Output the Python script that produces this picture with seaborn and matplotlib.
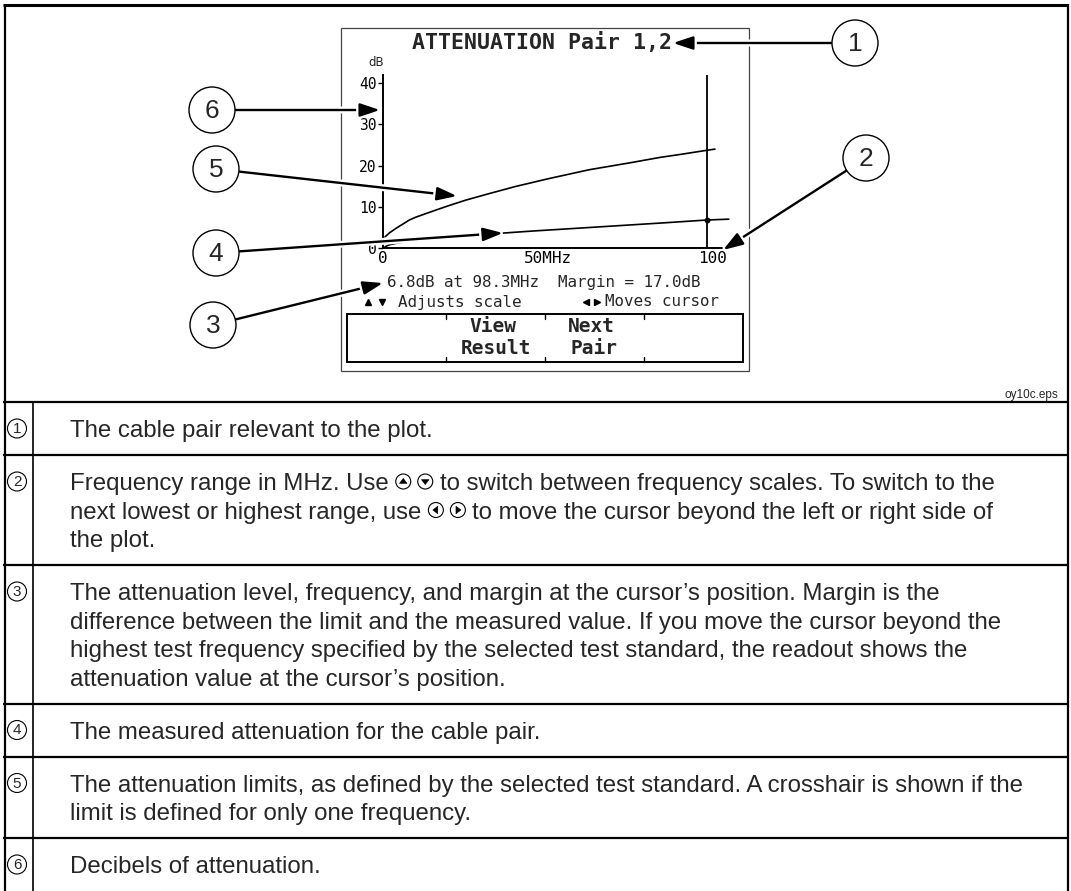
import numpy as np
import pandas as pd
import matplotlib
matplotlib.use('Agg')
import matplotlib.pyplot as plt
import seaborn as sns
from matplotlib.patches import Circle, Rectangle, Polygon
import matplotlib.patheffects as pe

# ---------------- data ----------------
limit_freq = [0.6, 2, 4, 8, 10, 16, 20, 25, 31.25, 40, 50, 62.5, 75, 84, 90, 98, 100.6]
limit_db = [2.7, 3.7, 4.8, 6.8, 7.5, 9.2, 10.3, 11.6, 13.0, 14.9, 16.8, 19.0, 20.7, 22.0, 22.7, 23.7, 24.0]
meas_freq = [0.6, 2, 5, 10, 20, 30, 36, 45, 55, 65, 75, 85, 98.3, 104.8]
meas_db = [0.3, 0.8, 1.3, 1.8, 2.6, 3.2, 3.6, 4.1, 4.6, 5.1, 5.6, 6.1, 6.8, 7.0]
cursor_freq = 98.3
cursor_db = 6.8
margin_db = 17.0
y_ticks = [0, 10, 20, 30, 40]
x_ticks = [0, 50, 100]
x_tick_labels = ['0', '50MHz', '100']
title = 'ATTENUATION Pair 1,2'
y_unit = 'dB'
hint_left = 'Adjusts scale'
hint_right = 'Moves cursor'
buttons = [('View', 'Result'), ('Next', 'Pair')]
callout_numbers = ['1', '2', '3', '4', '5', '6']
fig_name = 'oy10c.eps'
table_rows = [
    [['The cable pair relevant to the plot.']],
    [['Frequency range in MHz. Use', 'UP', 'DOWN', 'to switch between frequency scales. To switch to the'],
     ['next lowest or highest range, use', 'LEFT', 'RIGHT', 'to move the cursor beyond the left or right side of'],
     ['the plot.']],
    [['The attenuation level, frequency, and margin at the cursor\u2019s position. Margin is the'],
     ['difference between the limit and the measured value. If you move the cursor beyond the'],
     ['highest test frequency specified by the selected test standard, the readout shows the'],
     ['attenuation value at the cursor\u2019s position.']],
    [['The measured attenuation for the cable pair.']],
    [['The attenuation limits, as defined by the selected test standard. A crosshair is shown if the'],
     ['limit is defined for only one frequency.']],
    [['Decibels of attenuation.']],
]

sns.set_style('white')
plt.rcParams['font.family'] = ['Liberation Sans', 'DejaVu Sans']
MONO = 'DejaVu Sans Mono'

W, H = 1071, 891
fig = plt.figure(figsize=(W / 100, H / 100), dpi=100)
fig.patch.set_facecolor('white')

# ---------------- LCD chart ----------------
x0_px, x1_px = 383, 723
y0_px, y1_px = 248, 75
px_per_mhz = 3.3
px_per_db = 4.12
ax = fig.add_axes([x0_px / W, 1 - y0_px / H, (x1_px - x0_px) / W, (y0_px - y1_px) / H])
ax.set_facecolor('none')
df_lim = pd.DataFrame({'freq': limit_freq, 'db': limit_db})
df_meas = pd.DataFrame({'freq': meas_freq, 'db': meas_db})
sns.lineplot(data=df_lim, x='freq', y='db', ax=ax, color='k', lw=1.2, clip_on=False)
sns.lineplot(data=df_meas, x='freq', y='db', ax=ax, color='k', lw=1.2, clip_on=False)
ax.axvline(cursor_freq, color='k', lw=1.3)
ax.plot([cursor_freq], [cursor_db], 'o', ms=3.2, color='k', clip_on=False)
ax.set_xlim(0, (x1_px - x0_px) / px_per_mhz)
ax.set_ylim(0, (y0_px - y1_px) / px_per_db)
for s in ['top', 'right']:
    ax.spines[s].set_visible(False)
for s in ['left', 'bottom']:
    ax.spines[s].set_linewidth(1.4)
    ax.spines[s].set_color('k')
ax.set_yticks(y_ticks)
ax.set_yticklabels([str(v) for v in y_ticks], fontfamily=MONO, fontsize=10.5)
ax.set_xticks(x_ticks)
ax.set_xticklabels(x_tick_labels, fontfamily=MONO, fontsize=11.5)
ax.tick_params(axis='y', direction='out', length=3.5, width=1.0, pad=1, colors='k', left=True)
ax.tick_params(axis='x', length=0, pad=2, colors='k')
ax.set_xlabel('')
ax.set_ylabel('')
ax.grid(False)

# ---------------- page overlay ----------------
page = fig.add_axes([0, 0, 1, 1])
page.set_xlim(0, W)
page.set_ylim(H, 0)
page.axis('off')
page.set_facecolor('none')
R = fig.canvas.get_renderer()

# outer border
page.plot([3, 1068], [5, 5], color='k', lw=2.2, solid_capstyle='butt')
page.plot([4.5, 4.5], [4, H], color='k', lw=1.6, solid_capstyle='butt')
page.plot([1067.5, 1067.5], [4, H], color='k', lw=1.6, solid_capstyle='butt')

# screen frame
page.add_patch(Rectangle((341, 28), 408, 343, fill=False, ec='#444444', lw=0.9))
page.text(376, 62, y_unit, ha='center', va='center', fontsize=8.5, family='DejaVu Sans')
page.text(542, 43, title, ha='center', va='center', family=MONO, weight='bold', fontsize=15.5)

# readout and hints
page.text(387, 283, f'{cursor_db}dB at {cursor_freq}MHz  Margin = {margin_db}dB',
          ha='left', va='center', family=MONO, fontsize=11.4)
page.plot([368], [302], marker='^', ms=5, color='k')
page.plot([382], [302], marker='v', ms=5, color='k')
page.text(398, 302, hint_left, ha='left', va='center', family=MONO, fontsize=11.4)
page.plot([586], [302], marker='<', ms=5, color='k')
page.plot([597], [302], marker='>', ms=5, color='k')
page.text(605, 302, hint_right, ha='left', va='center', family=MONO, fontsize=11.4)

# soft-key box
bx0, by0, bw, bh = 347, 314, 396, 48
page.add_patch(Rectangle((bx0, by0), bw, bh, fill=False, ec='k', lw=1.4))
for i in range(1, 4):
    xd = bx0 + bw * i / 4
    page.plot([xd, xd], [by0, by0 + 5], color='k', lw=1.0)
    page.plot([xd, xd], [by0 + bh - 5, by0 + bh], color='k', lw=1.0)
for i, (l1, l2) in enumerate(buttons):
    xc = bx0 + bw * (i + 1.5) / 4
    page.text(xc - 3, 326, l1, ha='center', va='center', family=MONO, weight='bold', fontsize=14)
    page.text(xc, 349, l2, ha='center', va='center', family=MONO, weight='bold', fontsize=14)

# callouts
callouts = {
    '1': ((855, 43), (673, 43)),
    '2': ((866, 158), (723, 250)),
    '3': ((213, 325), (383, 283)),
    '4': ((216, 253), (503, 233)),
    '5': ((216, 169), (457, 196)),
    '6': ((212, 110), (380, 110)),
}
RAD = 23
for num in callout_numbers:
    (cx, cy), (tx, ty) = callouts[num]
    d = np.hypot(tx - cx, ty - cy)
    sx, sy = cx + (tx - cx) / d * RAD, cy + (ty - cy) / d * RAD
    an = page.annotate('', xy=(tx, ty), xytext=(sx, sy),
                       arrowprops=dict(arrowstyle='-|>,head_length=12,head_width=4',
                                       mutation_scale=1, color='k', lw=1.7,
                                       shrinkA=0, shrinkB=0))
    an.arrow_patch.set_path_effects([pe.Stroke(linewidth=5, foreground='white'), pe.Normal()])
    page.add_patch(Circle((cx, cy), RAD, fill=True, fc='white', ec='k', lw=1.0, zorder=5))
    page.text(cx, cy + 1, num, ha='center', va='center', fontsize=19, zorder=6)

page.text(1058, 395, fig_name, ha='right', va='center', fontsize=8.5)

# ---------------- table ----------------
table_top = 402
LINE = 28.5
PAD = 26.5
FS = 17.3
em = FS * 100 / 72
cap = 0.716 * em
col_x = 33
text_x = 70
lw_tab = 1.6


def draw_icon(cx, cy, kind, r=7.5):
    page.add_patch(Circle((cx, cy), r, fill=False, ec='k', lw=0.8))
    s = 3.8
    if kind == 'UP':
        pts = [(cx - s, cy + s * 0.5), (cx + s, cy + s * 0.5), (cx, cy - s * 0.8)]
    elif kind == 'DOWN':
        pts = [(cx - s, cy - s * 0.5), (cx + s, cy - s * 0.5), (cx, cy + s * 0.8)]
    elif kind == 'LEFT':
        pts = [(cx + s * 0.5, cy - s), (cx + s * 0.5, cy + s), (cx - s * 0.8, cy)]
    else:
        pts = [(cx - s * 0.5, cy - s), (cx - s * 0.5, cy + s), (cx + s * 0.8, cy)]
    page.add_patch(Polygon(pts, closed=True, fc='k', ec='k', lw=0.4))


def draw_line(x, yc, segs):
    base = yc + cap / 2
    for j, seg in enumerate(segs):
        if seg in ('UP', 'DOWN', 'LEFT', 'RIGHT'):
            x += 7
            draw_icon(x + 7.5, yc, seg)
            x += 15
        else:
            if j > 0:
                x += 7
            t = page.text(x, base, seg, ha='left', va='baseline', fontsize=FS)
            x += t.get_window_extent(renderer=R).width


y = table_top
page.plot([3, 1068], [y, y], color='k', lw=lw_tab, solid_capstyle='butt')
n_rows = len(table_rows)
for idx, (num, lines) in enumerate(zip(callout_numbers, table_rows)):
    first = y + PAD
    page.add_patch(Circle((17, first), 9.5, fill=False, ec='k', lw=0.8))
    page.text(17, first + 0.5, num, ha='center', va='center', fontsize=11)
    for k, segs in enumerate(lines):
        draw_line(text_x, first + k * LINE, segs)
    y = first + (len(lines) - 1) * LINE + PAD
    if idx < n_rows - 1:
        page.plot([3, 1068], [y, y], color='k', lw=lw_tab, solid_capstyle='butt')
page.plot([col_x, col_x], [table_top, H], color='k', lw=1.2, solid_capstyle='butt')

fig.savefig('out.png', dpi=100, facecolor='white')
